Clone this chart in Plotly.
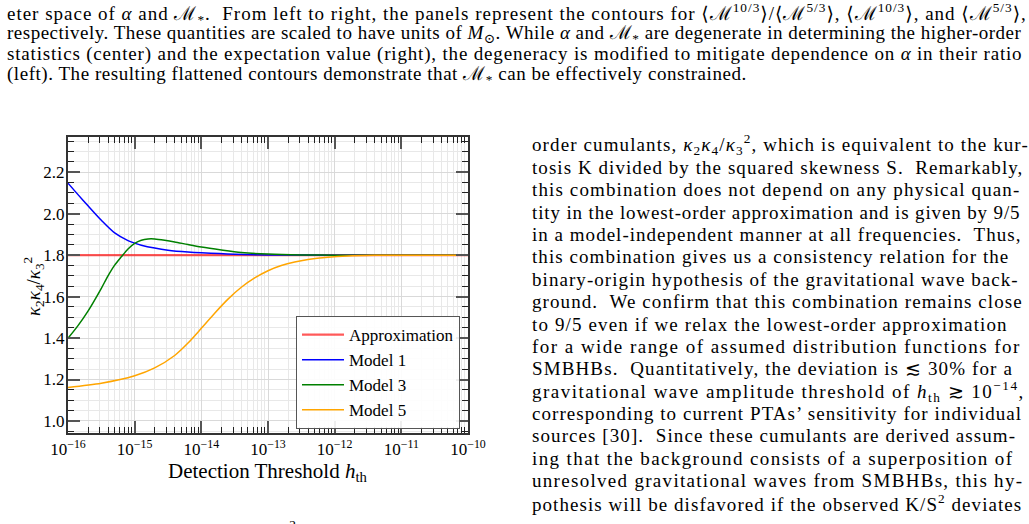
import plotly.graph_objects as go

# ---------------- data ----------------
log_h_approx = [-16.0, -10.0]
approx = [1.8, 1.8]

log_h_m1 = [-16.0, -15.85, -15.7, -15.5, -15.3, -15.1, -15.0, -14.9, -14.7, -14.5,
            -14.2, -14.0, -13.5, -13.0, -12.0, -11.0, -10.0]
model1 = [2.147, 2.092, 2.038, 1.968, 1.907, 1.870, 1.858, 1.848, 1.834, 1.824,
          1.815, 1.811, 1.804, 1.801, 1.800, 1.800, 1.800]

log_h_m3 = [-16.0, -15.85, -15.7, -15.5, -15.4, -15.3, -15.2, -15.1, -15.0, -14.9,
            -14.8, -14.7, -14.55, -14.4, -14.2, -14.0, -13.7, -13.4, -13.0, -12.5,
            -12.0, -11.0, -10.0]
model3 = [1.399, 1.460, 1.530, 1.640, 1.700, 1.752, 1.792, 1.830, 1.857, 1.872,
          1.878, 1.878, 1.872, 1.864, 1.851, 1.839, 1.825, 1.813, 1.805, 1.801,
          1.800, 1.800, 1.800]

log_h_m5 = [-16.0, -15.5, -15.0, -14.7, -14.4, -14.2, -14.0, -13.8, -13.6, -13.4,
            -13.2, -13.0, -12.8, -12.6, -12.4, -12.1, -11.8, -11.4, -11.0, -10.0]
model5 = [1.162, 1.182, 1.218, 1.256, 1.316, 1.376, 1.447, 1.520, 1.588, 1.645,
          1.690, 1.725, 1.750, 1.767, 1.779, 1.790, 1.796, 1.799, 1.800, 1.800]

series_names = ["Approximation", "Model 1", "Model 3", "Model 5"]
x_tick_exps = [-16, -15, -14, -13, -12, -11, -10]
y_tick_vals = [1.0, 1.2, 1.4, 1.6, 1.8, 2.0, 2.2]

top_lines = [
    "eter space of <i>α</i> and ℳ<sub>*</sub>.  From left to right, the panels represent the contours for ⟨ℳ<sup>10/3</sup>⟩/⟨ℳ<sup>5/3</sup>⟩, ⟨ℳ<sup>10/3</sup>⟩, and ⟨ℳ<sup>5/3</sup>⟩,",
    "respectively. These quantities are scaled to have units of <i>M</i><sub>⊙</sub>. While <i>α</i> and ℳ<sub>*</sub> are degenerate in determining the higher-order",
    "statistics (center) and the expectation value (right), the degeneracy is modified to mitigate dependence on <i>α</i> in their ratio",
    "(left). The resulting flattened contours demonstrate that ℳ<sub>*</sub> can be effectively constrained.",
]

right_lines = [
    "order cumulants, <i>κ</i><sub>2</sub><i>κ</i><sub>4</sub>/<i>κ</i><sub>3</sub><sup>2</sup>, which is equivalent to the kur-",
    "tosis K divided by the squared skewness S.  Remarkably,",
    "this combination does not depend on any physical quan-",
    "tity in the lowest-order approximation and is given by 9/5",
    "in a model-independent manner at all frequencies.  Thus,",
    "this combination gives us a consistency relation for the",
    "binary-origin hypothesis of the gravitational wave back-",
    "ground.  We confirm that this combination remains close",
    "to 9/5 even if we relax the lowest-order approximation",
    "for a wide range of assumed distribution functions for",
    "SMBHBs.  Quantitatively, the deviation is ≲ 30% for a",
    "gravitational wave amplitude threshold of <i>h</i><sub>th</sub> ≳ 10<sup>−14</sup>,",
    "corresponding to current PTAs’ sensitivity for individual",
    "sources [30].  Since these cumulants are derived assum-",
    "ing that the background consists of a superposition of",
    "unresolved gravitational waves from SMBHBs, this hy-",
    "pothesis will be disfavored if the observed K/S<sup>2</sup> deviates",
]

# ---------------- styling (letter spacing per text line, to justify) ----------------
top_spacing = [0.99, 0.50, 0.82, 0.54]
right_spacing = [1.11, 1.06, 1.13, 0.86, 1.02, 1.06, 1.06, 1.08, 1.13, 1.47,
                 1.12, 1.49, 1.06, 1.08, 1.39, 1.30, 1.06]

# ---------------- figure ----------------
W, H = 1029, 524
L, R, T, B = 68, 468, 137, 433
SERIF = "Liberation Serif, DejaVu Serif, serif"


def px(xp):
    return (xp - L) / (R - L)


def py(yp):
    return (B - yp) / (B - T)


fig = go.Figure()
colors = ["rgba(255,0,0,0.65)", "#0000ff", "#008000", "#ffa500"]
widths = [2.2, 1.5, 1.5, 1.5]
data = [(log_h_approx, approx), (log_h_m1, model1), (log_h_m3, model3), (log_h_m5, model5)]
for name, (lx, yv), c, w in zip(series_names, data, colors, widths):
    fig.add_trace(go.Scatter(
        x=[10 ** e for e in lx], y=yv, mode="lines", name=name,
        line=dict(color=c, width=w, shape="spline", smoothing=0.8),
    ))

axis_common = dict(
    showline=True, linecolor="#333333", linewidth=2, mirror="allticks",
    ticks="inside", tickcolor="#555555", tickwidth=1.5, ticklen=12,
    showgrid=True, gridcolor="#d9d9d9", gridwidth=1, zeroline=False,
    tickfont=dict(family=SERIF, size=17, color="black"),
)

fig.update_xaxes(
    type="log", range=[-16, -10],
    tickvals=[10 ** e for e in x_tick_exps],
    ticktext=["10<sup>−%d</sup>" % (-e) for e in x_tick_exps],
    minor=dict(ticks="inside", ticklen=6, tickcolor="#222222", tickwidth=1,
               showgrid=True, gridcolor="#e8e8e8", dtick="D1"),
    **axis_common,
)
fig.update_yaxes(
    range=[0.942, 2.37],
    tickvals=y_tick_vals, ticktext=["%.1f" % v for v in y_tick_vals],
    ticklabelstandoff=-2,
    minor=dict(ticks="inside", ticklen=6, tickcolor="#222222", tickwidth=1,
               showgrid=True, gridcolor="#e8e8e8", dtick=0.05, tick0=0),
    **axis_common,
)

annotations = []
# axis titles
annotations.append(dict(
    text="Detection Threshold <i>h</i><sub>th</sub>", x=px(267), y=py(472),
    xref="paper", yref="paper", showarrow=False, xanchor="center", yanchor="middle",
    font=dict(family=SERIF, size=21, color="black")))
annotations.append(dict(
    text="<i>κ</i><sub>2</sub><i>κ</i><sub>4</sub>/<i>κ</i><sub>3</sub><sup>2</sup>",
    x=px(33), y=py(287), textangle=-90,
    xref="paper", yref="paper", showarrow=False, xanchor="center", yanchor="middle",
    font=dict(family=SERIF, size=19, color="black")))

# page text (top caption lines)
for i, (t, ls) in enumerate(zip(top_lines, top_spacing)):
    annotations.append(dict(
        text='<span style="letter-spacing:%.2fpx">%s</span>' % (ls, t),
        x=px(5), y=py(13 + 20.7 * i), xref="paper", yref="paper",
        showarrow=False, xanchor="left", yanchor="middle", align="left",
        font=dict(family=SERIF, size=19, color="black")))

# page text (right column)
for i, (t, ls) in enumerate(zip(right_lines, right_spacing)):
    annotations.append(dict(
        text='<span style="letter-spacing:%.2fpx">%s</span>' % (ls, t),
        x=px(530), y=py(145 + 22.375 * i), xref="paper", yref="paper",
        showarrow=False, xanchor="left", yanchor="middle", align="left",
        font=dict(family=SERIF, size=19, color="black")))

# fragment of the next caption line, cut by the page bottom
annotations.append(dict(
    text="<i>κ</i><sup>2</sup>", x=px(288), y=py(529), xref="paper", yref="paper",
    showarrow=False, xanchor="center", yanchor="middle",
    font=dict(family=SERIF, size=19, color="black")))

fig.update_layout(
    width=W, height=H,
    margin=dict(l=L, r=W - R, t=T, b=H - B, pad=0),
    paper_bgcolor="white", plot_bgcolor="white",
    showlegend=True,
    legend=dict(
        x=px(460), y=py(429), xanchor="right", yanchor="bottom",
        bgcolor="rgba(255,255,255,0.9)", bordercolor="#555555", borderwidth=1,
        font=dict(family=SERIF, size=17, color="black"),
        tracegroupgap=0, itemwidth=42,
    ),
    annotations=annotations,
)

fig.write_html("out.html")
